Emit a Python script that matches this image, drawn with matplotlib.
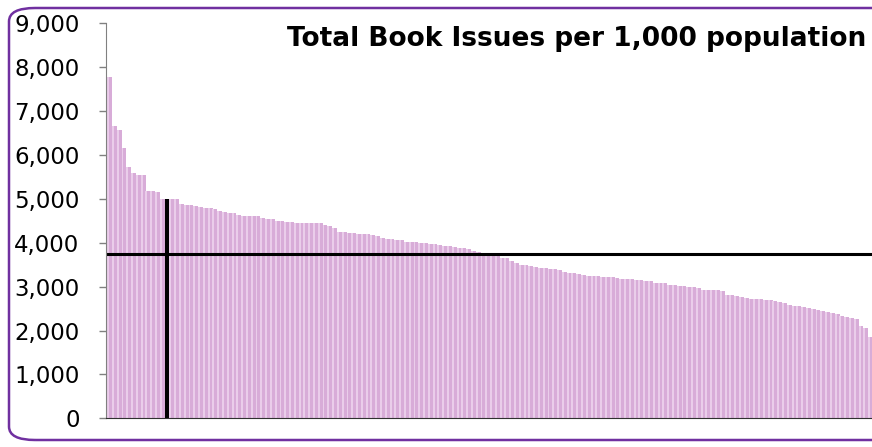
import matplotlib

matplotlib.use("Agg")
import matplotlib.pyplot as plt
import numpy as np
from matplotlib.patches import FancyBboxPatch
from matplotlib.ticker import FuncFormatter

# book issues per 1,000 population, sorted high to low
issues = [
    7780, 6670, 6560, 6160, 5730, 5600, 5545, 5545, 5185, 5185,
    5155, 5000, 5000, 5000, 5000, 4880, 4862, 4862, 4839, 4809,
    4795, 4795, 4771, 4728, 4703, 4680, 4680, 4640, 4615, 4615,
    4615, 4615, 4566, 4543, 4543, 4497, 4497, 4474, 4474, 4452,
    4452, 4452, 4452, 4452, 4452, 4406, 4376, 4331, 4247, 4247,
    4224, 4224, 4201, 4201, 4201, 4178, 4155, 4110, 4087, 4087,
    4064, 4064, 4019, 4019, 4019, 3996, 3996, 3973, 3973, 3950,
    3927, 3927, 3905, 3882, 3882, 3855, 3814, 3780, 3770, 3760,
    3750, 3735, 3654, 3654, 3590, 3545, 3494, 3494, 3470, 3446,
    3423, 3423, 3403, 3403, 3380, 3335, 3312, 3312, 3290, 3267,
    3244, 3244, 3244, 3218, 3218, 3218, 3198, 3172, 3172, 3172,
    3158, 3158, 3130, 3130, 3084, 3084, 3084, 3039, 3039, 3016,
    3016, 2993, 2993, 2965, 2935, 2920, 2920, 2920, 2902, 2811,
    2811, 2788, 2765, 2742, 2719, 2719, 2719, 2697, 2697, 2674,
    2651, 2621, 2583, 2560, 2560, 2537, 2514, 2491, 2469, 2446,
    2423, 2400, 2378, 2332, 2309, 2286, 2264, 2104, 2058, 1853,
]
highlight_idx = 12  # the authority drawn in black
average = 3750
yticks = [0, 1000, 2000, 3000, 4000, 5000, 6000, 7000, 8000, 9000]
title = "Total Book Issues per 1,000 population"

W, H = 872, 447
fig = plt.figure(figsize=(W / 100, H / 100), dpi=100)

# rounded purple frame (right side is cut off in the original)
frame = FancyBboxPatch(
    (9 / W, 7 / H), (W + 40) / W, (H - 15) / H,
    boxstyle="round,pad=0,rounding_size=0.03",
    transform=fig.transFigure, fill=False, edgecolor="#7030a0", linewidth=1.8,
)
fig.patches.append(frame)

ax = fig.add_axes([106 / W, 28.7 / H, (W - 106 + 1) / W, 394.9 / H])
x = np.arange(len(issues))
vals = np.array(issues)

colors = ["#d8acd8"] * len(issues)
colors[highlight_idx] = "black"
ax.bar(x, vals, width=1.02, color=colors, linewidth=0)
# lighter left side on each bar, like the excel gradient fill
light = np.ones(len(issues), dtype=bool)
light[highlight_idx] = False
ax.bar(x[light] - 0.3, vals[light], width=0.4, color="#eacdea", linewidth=0)

ax.axhline(average, color="black", linewidth=2.2)

ax.set_xlim(-0.75, len(issues) - 0.5)
ax.set_ylim(0, 9000)
ax.set_yticks(yticks)
ax.yaxis.set_major_formatter(FuncFormatter(lambda v, p: f"{int(v):,}"))
ax.tick_params(axis="y", direction="out", length=5, width=1, color="#808080",
               pad=14, labelsize=16.5, labelcolor="black")
ax.set_xticks([])
for s in ["top", "right"]:
    ax.spines[s].set_visible(False)
ax.spines["left"].set_color("#808080")
ax.spines["bottom"].set_color("#303030")
ax.patch.set_alpha(0)

fig.text(866 / W, 1 - 46 / H, title, ha="right", va="baseline",
         fontsize=19, fontweight="bold", color="black")

fig.savefig("out.png", dpi=100)
